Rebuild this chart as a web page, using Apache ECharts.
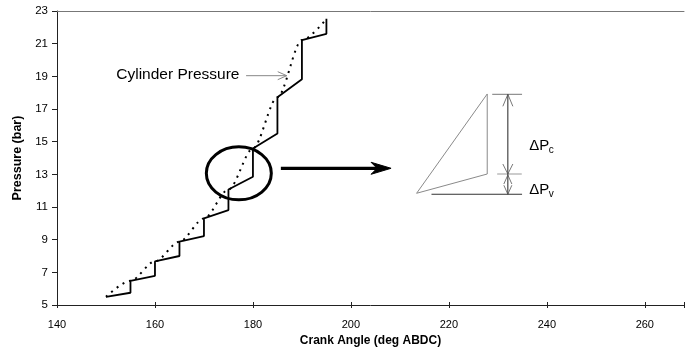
<!DOCTYPE html>
<html>
<head>
<meta charset="utf-8">
<script src="https://cdn.jsdelivr.net/npm/echarts@6/dist/echarts.min.js"></script>
<style>
html,body{margin:0;padding:0;background:#fff;}
#c{width:687px;height:360px;}
</style>
</head>
<body>
<div id="c"></div>
<script>
// ---- data ----
var xTicks = [140, 160, 180, 200, 220, 240, 260];
var yTicks = [5, 7, 9, 11, 13, 15, 17, 19, 21, 23];
// Cylinder pressure (dotted curve)
var cylAngle    = [150, 155, 160, 165, 170, 175, 180, 185, 190, 195];
var cylPressure = [5.5, 6.48, 7.67, 8.88, 10.3, 12.07, 14.58, 17.72, 21.22, 22.52];
// Stepped pressure (solid)
var stepAngle    = [150, 155, 155, 160, 160, 165, 165, 170, 170, 175, 175, 180, 180, 185, 185, 190, 190, 195, 195];
var stepPressure = [5.5, 5.75, 6.48, 6.79, 7.67, 8.0, 8.88, 9.22, 10.3, 10.81, 12.07, 12.85, 14.58, 15.5, 17.72, 18.82, 21.22, 21.6, 22.52];

var FONT = '"Liberation Sans", Arial, sans-serif';

function pairs(xs, ys) { return xs.map(function (x, i) { return [x, ys[i]]; }); }

var chart = echarts.init(document.getElementById('c'), null, {renderer: 'canvas'});
var axisCommon = {
  type: 'value', min: 140, max: 268, interval: 20
};
chart.setOption({
  animation: false,
  backgroundColor: '#fff',
  grid: {left: 57, right: 0, top: 11, bottom: 55, containLabel: false},
  xAxis: [
    Object.assign({}, axisCommon, {
      position: 'bottom',
      name: 'Crank Angle (deg ABDC)',
      nameLocation: 'middle',
      nameGap: 24,
      nameTextStyle: {fontFamily: FONT, fontWeight: 'bold', fontSize: 12, color: '#000'},
      axisLine: {show: true, lineStyle: {color: '#222', width: 1}},
      axisTick: {show: true, inside: false, length: 3, lineStyle: {color: '#222'}},
      axisLabel: {fontFamily: FONT, fontSize: 11, color: '#000', margin: 14,
        formatter: function (v) { return xTicks.indexOf(v) >= 0 ? String(v) : ''; }},
      splitLine: {show: false}
    }),
    Object.assign({}, axisCommon, {
      position: 'bottom',
      axisLine: {show: false},
      axisTick: {show: true, inside: true, length: 3, lineStyle: {color: '#222'}},
      axisLabel: {show: false},
      splitLine: {show: false}
    }),
    Object.assign({}, axisCommon, {
      position: 'top',
      axisLine: {show: true, lineStyle: {color: '#777', width: 1}},
      axisTick: {show: false},
      axisLabel: {show: false},
      splitLine: {show: false}
    })
  ],
  yAxis: {
    type: 'value', min: 5, max: 23, interval: 2,
    name: 'Pressure (bar)',
    nameLocation: 'middle',
    nameGap: 30,
    nameRotate: 90,
    nameTextStyle: {fontFamily: FONT, fontWeight: 'bold', fontSize: 12.5, color: '#000'},
    axisLine: {show: true, lineStyle: {color: '#222', width: 1}},
    axisTick: {show: true, length: 5, lineStyle: {color: '#222'}},
    axisLabel: {fontFamily: FONT, fontSize: 11.5, color: '#000', margin: 9},
    splitLine: {show: false}
  },
  series: [
    {
      name: 'Cylinder Pressure', type: 'line', xAxisIndex: 0,
      data: pairs(cylAngle, cylPressure),
      smooth: 0.3, smoothMonotone: 'x',
      symbol: 'none',
      lineStyle: {color: '#000', width: 2, type: [2, 5]},
      z: 2
    },
    {
      name: 'Stepped', type: 'line', xAxisIndex: 0,
      data: pairs(stepAngle, stepPressure),
      symbol: 'none',
      lineStyle: {color: '#000', width: 1.8},
      z: 3
    }
  ]
});

// ---- annotation geometry (in data units) ----
function P(x, y) { return chart.convertToPixel({xAxisIndex: 0, yAxisIndex: 0}, [x, y]); }
var ann = {
  circle: [177.12, 13.06],
  arrowFrom: [185.7, 13.37], arrowTo: [208.2, 13.37],
  triA: [227.83, 17.92], triB: [227.83, 13.02], triC: [213.41, 11.84],
  dimTop: [[228.85, 17.90], [234.94, 17.90]],
  dimMid: [[229.86, 13.02], [234.88, 13.02]],
  dimBot: [[216.45, 11.78], [234.94, 11.78]],
  dimX: 232.04,
  lblC: [236.4, 14.73], lblV: [236.4, 12.04],
  cylText: [152.1, 19.1],
  ptrFrom: [178.6, 19.04], ptrTo: [186.9, 19.04]
};

var g = [];
var c = P(ann.circle[0], ann.circle[1]);
g.push({type: 'ellipse', shape: {cx: c[0], cy: c[1], rx: 32.5, ry: 26.5},
  style: {fill: 'none', stroke: '#000', lineWidth: 3}, z: 10});

var a0 = P(ann.arrowFrom[0], ann.arrowFrom[1]), a1 = P(ann.arrowTo[0], ann.arrowTo[1]);
g.push({type: 'line', shape: {x1: a0[0], y1: a0[1], x2: a1[0] - 8, y2: a1[1]},
  style: {stroke: '#000', lineWidth: 3.2}, z: 10});
g.push({type: 'polygon', shape: {points: [[a1[0], a1[1]], [a1[0] - 20, a1[1] - 6], [a1[0] - 14, a1[1]], [a1[0] - 20, a1[1] + 6]]},
  style: {fill: '#000', stroke: '#000', lineWidth: 1}, z: 10});

var tA = P(ann.triA[0], ann.triA[1]), tB = P(ann.triB[0], ann.triB[1]), tC = P(ann.triC[0], ann.triC[1]);
g.push({type: 'polygon', shape: {points: [tA, tB, tC]},
  style: {fill: 'none', stroke: '#8a8a8a', lineWidth: 1}, z: 10});

[ann.dimTop, ann.dimMid, ann.dimBot].forEach(function (seg, i) {
  var p0 = P(seg[0][0], seg[0][1]), p1 = P(seg[1][0], seg[1][1]);
  g.push({type: 'line', shape: {x1: p0[0], y1: p0[1], x2: p1[0], y2: p1[1]},
    style: {stroke: i === 1 ? '#999' : (i === 0 ? '#777' : '#333'), lineWidth: 1}, z: 10});
});
var vTop = P(ann.dimX, ann.dimTop[0][1]), vMid = P(ann.dimX, ann.dimMid[0][1]), vBot = P(ann.dimX, ann.dimBot[0][1]);
g.push({type: 'line', shape: {x1: vTop[0], y1: vTop[1], x2: vBot[0], y2: vBot[1]},
  style: {stroke: '#222', lineWidth: 1}, z: 10});
function chevron(tip, dir, len, half) {
  // dir: -1 pointing up, +1 pointing down
  return {type: 'polyline', shape: {points: [[tip[0] - half, tip[1] - dir * len], [tip[0], tip[1]], [tip[0] + half, tip[1] - dir * len]]},
    style: {fill: 'none', stroke: '#555', lineWidth: 0.8}, z: 10};
}
g.push(chevron(vTop, -1, 12, 5));
g.push(chevron(vMid, 1, 10, 5));
g.push(chevron([vMid[0], vMid[1] + 1], -1, 9, 4));
g.push(chevron(vBot, 1, 9, 4));

function dlabel(pt, sub) {
  var p = P(pt[0], pt[1]);
  g.push({type: 'text', x: p[0], y: p[1], z: 10,
    style: {text: 'ΔP', font: '15px ' + FONT, fill: '#000', align: 'left', verticalAlign: 'middle'}});
  g.push({type: 'text', x: p[0] + 19.5, y: p[1] + 4.5, z: 10,
    style: {text: sub, font: '10px ' + FONT, fill: '#000', align: 'left', verticalAlign: 'middle'}});
}
dlabel(ann.lblC, 'c');
dlabel(ann.lblV, 'v');

var ct = P(ann.cylText[0], ann.cylText[1]);
g.push({type: 'text', x: ct[0], y: ct[1], z: 10,
  style: {text: 'Cylinder Pressure', font: '15.5px ' + FONT, fill: '#000', align: 'left', verticalAlign: 'middle'}});
var q0 = P(ann.ptrFrom[0], ann.ptrFrom[1]), q1 = P(ann.ptrTo[0], ann.ptrTo[1]);
g.push({type: 'line', shape: {x1: q0[0], y1: q0[1], x2: q1[0], y2: q1[1]},
  style: {stroke: '#888', lineWidth: 1}, z: 10});
g.push({type: 'polyline', shape: {points: [[q1[0] - 9, q1[1] - 4], [q1[0], q1[1]], [q1[0] - 9, q1[1] + 4]]},
  style: {fill: 'none', stroke: '#888', lineWidth: 1}, z: 10});

chart.setOption({graphic: g});
</script>
</body>
</html>
